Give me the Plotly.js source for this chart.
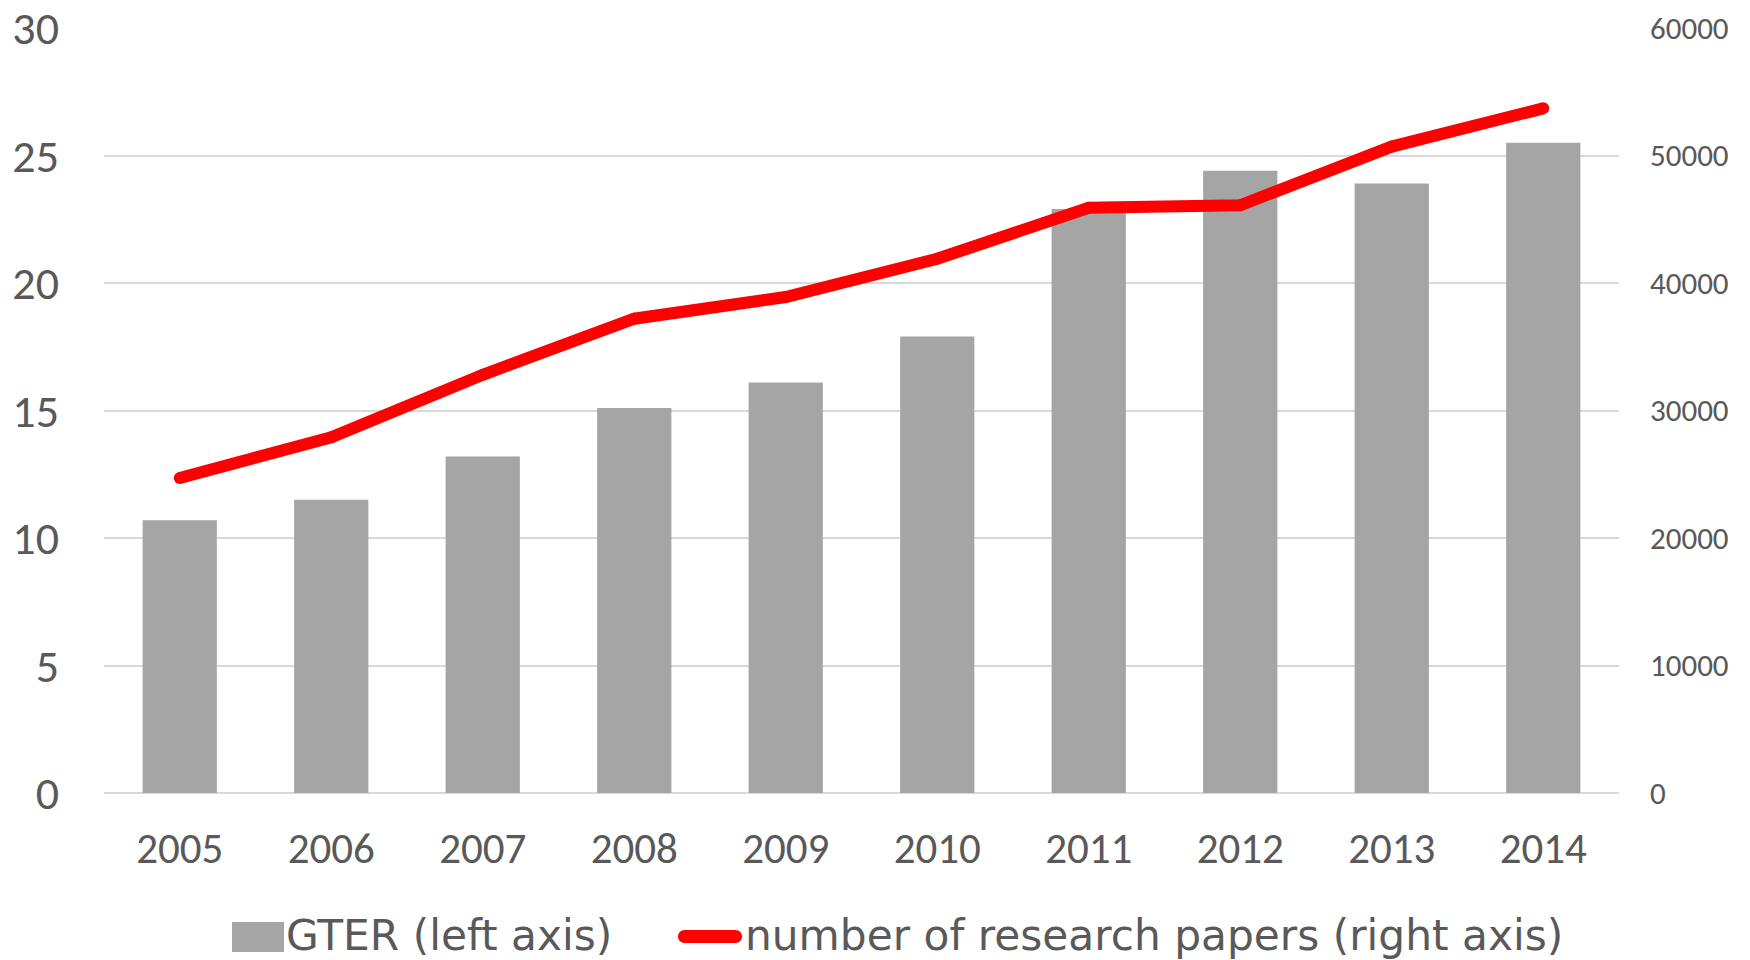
<!DOCTYPE html>
<html>
<head>
<meta charset="utf-8">
<script src="https://cdn.plot.ly/plotly-3.0.1.min.js"></script>
<style>
  html, body { margin: 0; padding: 0; background: #ffffff; }
  #chart { width: 1750px; height: 960px; }
</style>
</head>
<body>
<div id="chart"></div>
<script>
// Years on the category axis
const years = ['2005', '2006', '2007', '2008', '2009', '2010', '2011', '2012', '2013', '2014'];
// GTER values (left axis)
const gter = [10.7, 11.5, 13.2, 15.1, 16.1, 17.9, 22.9, 24.4, 23.9, 25.5];
// Number of research papers (right axis)
const papers = [24700, 27900, 32800, 37200, 38900, 41900, 45900, 46100, 50700, 53700];
// Legend labels
const legendLabels = ['GTER (left axis)', 'number of research papers (right axis)'];

const FONT = "Calibri, Carlito, 'Open Sans', sans-serif";
const LEGEND_FONT = "'DejaVu Sans', 'Open Sans', sans-serif";
const TEXT = '#595959';
const GRID = '#d9d9d9';
const BAR = '#a5a5a5';
const RED = '#ff0000';

const traces = [
  {
    type: 'bar',
    name: legendLabels[0],
    x: years,
    y: gter,
    marker: { color: BAR },
    yaxis: 'y',
    hoverinfo: 'x+y'
  },
  {
    type: 'scatter',
    mode: 'lines+markers',
    name: legendLabels[1],
    x: years,
    y: papers,
    line: { color: RED, width: 12 },
    marker: { color: RED, size: 12 },
    yaxis: 'y2',
    hoverinfo: 'x+y'
  }
];

// Plot-area geometry used to place the hand-built legend
const W = 1750, H = 960;
const M = { l: 104, r: 131, t: 28, b: 167 };
const pw = W - M.l - M.r, ph = H - M.t - M.b;
const px = v => (v - M.l) / pw;
const py = v => (H - M.b - v) / ph;

const layout = {
  width: W,
  height: H,
  margin: M,
  paper_bgcolor: '#ffffff',
  plot_bgcolor: '#ffffff',
  showlegend: false,
  bargap: 0.51,
  font: { family: FONT, color: TEXT },
  xaxis: {
    type: 'category',
    range: [-0.5, years.length - 0.5],
    showgrid: false,
    showline: false,
    zeroline: false,
    ticks: '',
    ticklabelstandoff: 26,
    tickfont: { family: FONT, size: 43, color: TEXT }
  },
  yaxis: {
    range: [0, 30],
    dtick: 5,
    showgrid: true,
    gridcolor: GRID,
    gridwidth: 2,
    zeroline: true,
    zerolinecolor: GRID,
    zerolinewidth: 2,
    showline: false,
    ticks: '',
    ticklabelstandoff: 44,
    tickfont: { family: FONT, size: 46, color: TEXT }
  },
  yaxis2: {
    range: [0, 60000],
    dtick: 10000,
    tickformat: 'd',
    overlaying: 'y',
    side: 'right',
    showgrid: false,
    zeroline: false,
    showline: false,
    ticks: '',
    ticklabelstandoff: 30,
    tickfont: { family: FONT, size: 31, color: TEXT }
  },
  shapes: [
    {
      type: 'rect', xref: 'paper', yref: 'paper',
      x0: px(232), x1: px(284), y0: py(952), y1: py(922),
      fillcolor: BAR, line: { width: 0 }
    },
    {
      type: 'path', xref: 'paper', yref: 'paper',
      xsizemode: 'pixel', ysizemode: 'pixel',
      xanchor: px(710), yanchor: py(936.5),
      path: 'M-25.5,-6.5 H25.5 C29.1,-6.5 32,-3.6 32,0 C32,3.6 29.1,6.5 25.5,6.5 H-25.5 C-29.1,6.5 -32,3.6 -32,0 C-32,-3.6 -29.1,-6.5 -25.5,-6.5 Z',
      fillcolor: RED, line: { width: 0 }
    }
  ],
  annotations: [
    {
      xref: 'paper', yref: 'paper',
      x: px(284), y: py(935),
      xanchor: 'left', yanchor: 'middle',
      text: legendLabels[0], showarrow: false,
      font: { family: LEGEND_FONT, size: 42.3, color: TEXT }
    },
    {
      xref: 'paper', yref: 'paper',
      x: px(743), y: py(935),
      xanchor: 'left', yanchor: 'middle',
      text: legendLabels[1], showarrow: false,
      font: { family: LEGEND_FONT, size: 42.3, color: TEXT }
    }
  ]
};

Plotly.newPlot('chart', traces, layout, { displayModeBar: false, staticPlot: true });
</script>
</body>
</html>
